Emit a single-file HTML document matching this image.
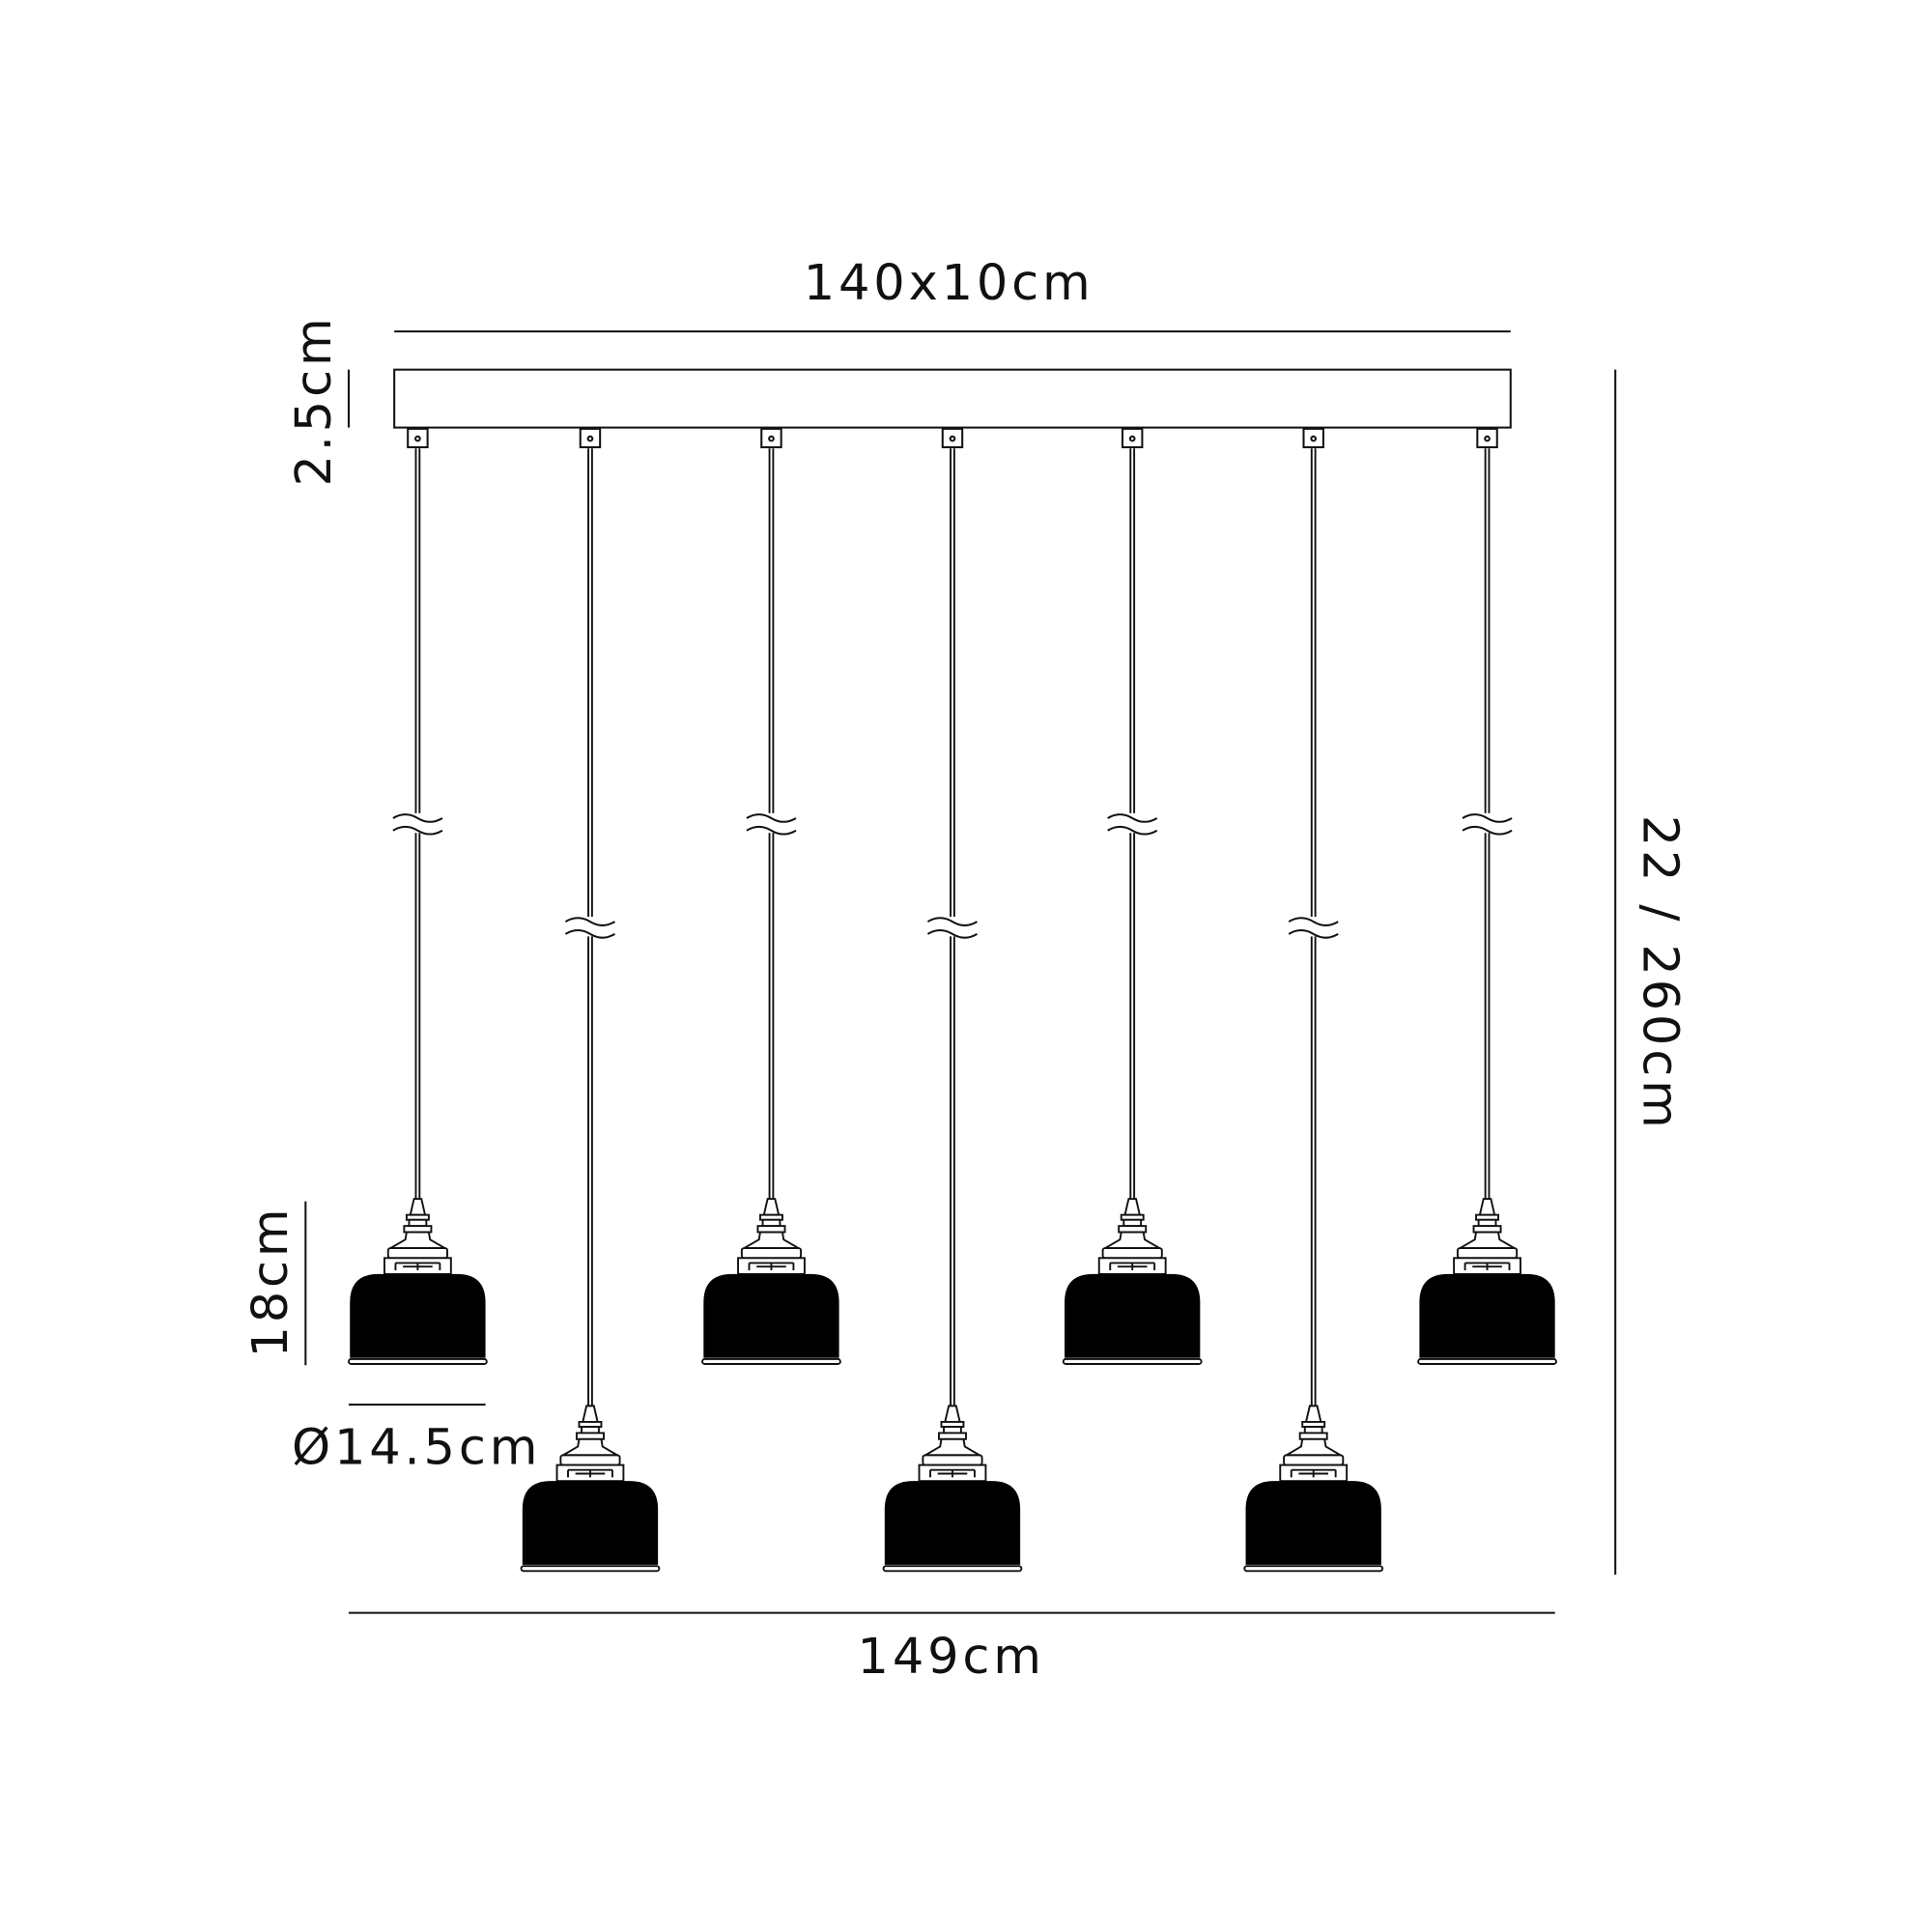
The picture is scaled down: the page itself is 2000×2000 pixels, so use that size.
<!DOCTYPE html>
<html><head><style>html,body{margin:0;padding:0;background:#fff}svg{display:block}</style></head>
<body>
<svg width="2000" height="2000" viewBox="0 0 1568 1568" xmlns="http://www.w3.org/2000/svg" font-family="'DejaVu Sans','Liberation Sans',sans-serif" fill="#111">
<defs>
<g id="pend">
  <path d="M-3,0 L3,0 L6,13 L-6,13 Z" fill="#fff" stroke="#111" stroke-width="1.5"/>
  <rect x="-9" y="13" width="18" height="4" fill="#fff" stroke="#111" stroke-width="1.5"/>
  <rect x="-7" y="17" width="14" height="5" fill="#fff" stroke="#111" stroke-width="1.5"/>
  <rect x="-11" y="22" width="22" height="5" fill="#fff" stroke="#111" stroke-width="1.5"/>
  <path d="M-9,27 L9,27 L10,33 L22,40 L-22,40 L-10,33 Z" fill="#fff" stroke="#111" stroke-width="1.5"/>
  <rect x="-24" y="40" width="48" height="8" rx="2" fill="#fff" stroke="#111" stroke-width="1.5"/>
  <rect x="-27" y="48" width="54" height="13" fill="#fff" stroke="#111" stroke-width="1.5"/>
  <path d="M-18,52 L18,52 M-18,52 L-18,58 M18,52 L18,58 M-12,55 L12,55 M0,52 L0,58" stroke="#111" stroke-width="1.5" fill="none"/>
  <path d="M-55,129 L-55,84 Q-55,61 -32,61 L32,61 Q55,61 55,84 L55,129 Z" fill="#000"/>
  <rect x="-56" y="130" width="112" height="4" rx="2" fill="#fff" stroke="#111" stroke-width="1.5"/>
</g>
<g id="brk">
  <rect x="-22" y="-8" width="44" height="16" fill="#fff"/>
  <path d="M-20,-4 q10,-6 20,0 t20,0 M-20,6 q10,-6 20,0 t20,0" stroke="#111" stroke-width="1.6" fill="none"/>
</g>
</defs>
<g font-size="40" fill="#111">
<text x="770" y="243" text-anchor="middle" letter-spacing="3">140x10cm</text>
<text x="772" y="1358" text-anchor="middle" letter-spacing="3">149cm</text>
<text x="338" y="1188" text-anchor="middle" letter-spacing="3">Ø14.5cm</text>
<text transform="translate(268,325) rotate(-90)" text-anchor="middle" letter-spacing="3">2.5cm</text>
<text transform="translate(233,1040) rotate(-90)" text-anchor="middle" letter-spacing="3">18cm</text>
<text transform="translate(1334,790) rotate(90)" text-anchor="middle" letter-spacing="3">22 / 260cm</text>
</g>
<g stroke="#111" stroke-width="1.6" fill="none">
<line x1="320" y1="269" x2="1226" y2="269"/>
<rect x="320" y="300" width="906" height="47" fill="#fff"/>
<line x1="283" y1="300" x2="283" y2="347"/>
<line x1="1311" y1="300" x2="1311" y2="1278"/>
<line x1="248" y1="975" x2="248" y2="1108"/>
<line x1="283" y1="1140" x2="394" y2="1140"/>
<line x1="283" y1="1309" x2="1262" y2="1309"/>
</g>
<g stroke="#111" stroke-width="1.5" fill="none">
<path d="M337.5,364V973M340.5,364V973"/>
<path d="M624.5,364V973M627.5,364V973"/>
<path d="M917.5,364V973M920.5,364V973"/>
<path d="M1205.5,364V973M1208.5,364V973"/>
<path d="M477.5,364V1141M480.5,364V1141"/>
<path d="M771.5,364V1141M774.5,364V1141"/>
<path d="M1064.5,364V1141M1067.5,364V1141"/>
</g>
<g fill="#fff" stroke="#111" stroke-width="1.6">
<rect x="331" y="348" width="16" height="15"/><circle cx="339" cy="356" r="1.8"/>
<rect x="471" y="348" width="16" height="15"/><circle cx="479" cy="356" r="1.8"/>
<rect x="618" y="348" width="16" height="15"/><circle cx="626" cy="356" r="1.8"/>
<rect x="765" y="348" width="16" height="15"/><circle cx="773" cy="356" r="1.8"/>
<rect x="911" y="348" width="16" height="15"/><circle cx="919" cy="356" r="1.8"/>
<rect x="1058" y="348" width="16" height="15"/><circle cx="1066" cy="356" r="1.8"/>
<rect x="1199" y="348" width="16" height="15"/><circle cx="1207" cy="356" r="1.8"/>
</g>
<use href="#brk" x="339" y="668"/>
<use href="#brk" x="626" y="668"/>
<use href="#brk" x="919" y="668"/>
<use href="#brk" x="1207" y="668"/>
<use href="#brk" x="479" y="752"/>
<use href="#brk" x="773" y="752"/>
<use href="#brk" x="1066" y="752"/>
<use href="#pend" x="339" y="973"/>
<use href="#pend" x="626" y="973"/>
<use href="#pend" x="919" y="973"/>
<use href="#pend" x="1207" y="973"/>
<use href="#pend" x="479" y="1141"/>
<use href="#pend" x="773" y="1141"/>
<use href="#pend" x="1066" y="1141"/>
</svg>
</body></html>
